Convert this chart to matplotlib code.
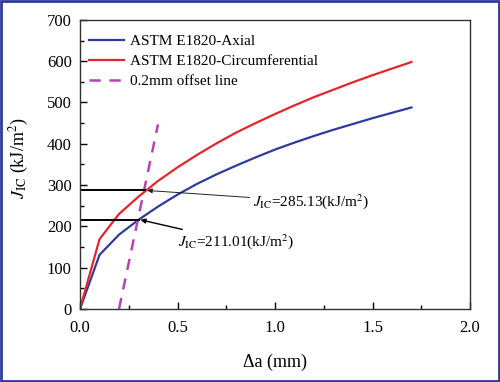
import matplotlib
matplotlib.use("Agg")
import matplotlib.pyplot as plt
from matplotlib.ticker import MultipleLocator
from matplotlib.patches import Rectangle

plt.rcParams['font.family'] = ['Liberation Serif', 'DejaVu Serif']
plt.rcParams['mathtext.fontset'] = 'stix'

# Data
da = [0.0, 0.1, 0.2, 0.3, 0.4, 0.5, 0.6, 0.7, 0.8, 0.9, 1.0, 1.1, 1.2, 1.3, 1.4, 1.5, 1.6, 1.7]
j_axial = [0, 131, 180, 216, 248, 277, 303, 326, 347, 367, 386, 403, 419, 434, 448, 462, 475, 488]
j_circ = [0, 169, 230, 272, 310, 343, 373, 401, 427, 450, 472, 493, 513, 531, 549, 566, 582, 598]
offset_x = [0.2, 0.4]
offset_y = [0, 447]
jic_axial_level = 216
jic_axial_x = 0.30
jic_circ_level = 287
jic_circ_x = 0.335
labels = ['ASTM E1820-Axial', 'ASTM E1820-Circumferential', '0.2mm offset line']

fig = plt.figure(figsize=(5.0, 3.82), dpi=100)
ax = fig.add_axes([0.16, 0.191, 0.78, 0.757])

ax.plot(da, j_axial, color='#2f3a9e', lw=1.6, label=labels[0])
ax.plot(da, j_circ, color='#e3262a', lw=1.6, label=labels[1])
ax.plot(offset_x, offset_y, color='#b444b4', lw=1.8, ls=(0, (4.5, 3.5)), label=labels[2])

ax.plot([0, jic_circ_x], [jic_circ_level, jic_circ_level], color='black', lw=1.4)
ax.plot([0, jic_axial_x], [jic_axial_level, jic_axial_level], color='black', lw=1.4)

ax.annotate(r'$J_{\rm IC}$=285.13(kJ/m$^2$)', xy=(jic_circ_x + 0.01, jic_circ_level),
            xytext=(0.885, 260), fontsize=11, va='center', ha='left',
            arrowprops=dict(arrowstyle='-|>', color='#222222', lw=0.7, mutation_scale=7,
                            shrinkA=0, shrinkB=0))
ax.annotate(r'$J_{\rm IC}$=211.01(kJ/m$^2$)', xy=(jic_axial_x + 0.01, jic_axial_level),
            xytext=(0.50, 163), fontsize=11, va='center', ha='left',
            arrowprops=dict(arrowstyle='-|>', color='black', lw=1.0, mutation_scale=7,
                            shrinkA=0, shrinkB=0))

ax.set_xlim(0, 2.0)
ax.set_ylim(0, 700)
ax.xaxis.set_minor_locator(MultipleLocator(0.25))
ax.yaxis.set_major_locator(MultipleLocator(100))
ax.yaxis.set_minor_locator(MultipleLocator(50))
ax.set_xticks([0, 0.5, 1.0, 1.5, 2.0])
ax.set_xticklabels(['0.0', '0.5', '1.0', '1.5', '2.0'])
ax.tick_params(which='both', direction='in', top=False, right=False, labelsize=12, width=1)
ax.tick_params(axis='x', which='major', length=5, pad=8)
ax.tick_params(axis='y', which='major', length=5, pad=6)
ax.tick_params(which='minor', length=3)
for s in ax.spines.values():
    s.set_linewidth(1.0)
    s.set_color('#333333')

ax.set_xlabel('Δa (mm)', fontsize=13)
ax.xaxis.set_label_coords(0.5, -0.155)
ax.set_ylabel(r'$J_{\rm IC}$ (kJ/m$^2$)', fontsize=13)
ax.yaxis.set_label_coords(-0.125, 0.52)

ax.legend(loc='upper left', bbox_to_anchor=(0.015, 0.96), frameon=False, fontsize=11,
          handlelength=2.3, borderaxespad=0, borderpad=0.2, labelspacing=0.42,
          handletextpad=0.4)

fig.patches.append(Rectangle((0.002, 0.003), 0.996, 0.994, transform=fig.transFigure,
                             fill=False, edgecolor='#2b3a9c', lw=2))

fig.savefig('out.png', dpi=100)
